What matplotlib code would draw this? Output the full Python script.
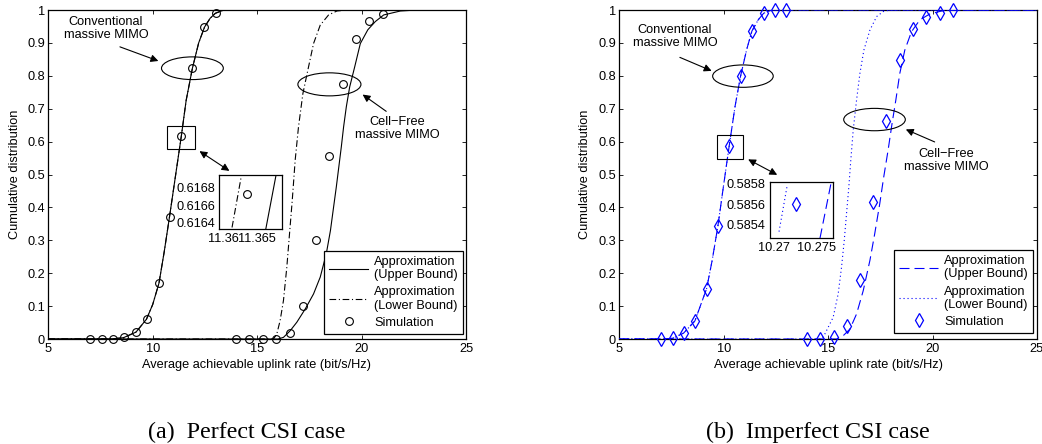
import matplotlib
matplotlib.use('Agg')
import matplotlib.pyplot as plt
from matplotlib.patches import Ellipse, Rectangle

plt.rcParams['font.family'] = ['Liberation Sans', 'DejaVu Sans']

# ---------------- data ----------------
x_ticks = [5, 10, 15, 20, 25]
x_tick_labels = ['5', '10', '15', '20', '25']
y_ticks = [0, 0.1, 0.2, 0.3, 0.4, 0.5, 0.6, 0.7, 0.8, 0.9, 1.0]
y_tick_labels = ['0', '0.1', '0.2', '0.3', '0.4', '0.5', '0.6', '0.7', '0.8', '0.9', '1']

legend_labels = ['Approximation\n(Upper Bound)', 'Approximation\n(Lower Bound)', 'Simulation']
xlabel_text = 'Average achievable uplink rate (bit/s/Hz)'
ylabel_text = 'Cumulative distribution'
captions = ['(a)  Perfect CSI case', '(b)  Imperfect CSI case']

# (a) perfect CSI
a_conv_up_x = [5.0, 7.0, 8.0, 8.6, 9.2, 9.7, 10.0, 10.3, 10.55, 10.8, 11.1, 11.37, 11.6, 11.9, 12.2, 12.48, 12.75, 13.0, 13.4, 25.0]
a_conv_up_y = [0.0, 0.0, 0.0, 0.004, 0.021, 0.06, 0.105, 0.17, 0.265, 0.37, 0.50, 0.617, 0.725, 0.823, 0.90, 0.948, 0.975, 0.99, 1.0, 1.0]
a_conv_lo_x = [5.0, 7.0, 8.0, 8.6, 9.2, 9.7, 10.0, 10.3, 10.55, 10.8, 11.1, 11.37, 11.6, 11.9, 12.2, 12.48, 12.75, 13.0, 13.4, 25.0]
a_conv_lo_y = [0.0, 0.0, 0.0, 0.004, 0.021, 0.06, 0.105, 0.17, 0.265, 0.37, 0.50, 0.617, 0.725, 0.823, 0.90, 0.948, 0.975, 0.99, 1.0, 1.0]
a_cf_up_x = [5.0, 16.0, 16.26, 16.58, 16.90, 17.30, 17.70, 18.02, 18.31, 18.51, 18.66, 18.79, 18.91, 19.03, 19.14, 19.27, 19.43, 19.67, 19.94, 20.3, 20.66, 21.06, 21.86, 22.65, 25.0]
a_cf_up_y = [0.0, 0.0, 0.005, 0.025, 0.051, 0.091, 0.137, 0.188, 0.259, 0.330, 0.401, 0.462, 0.523, 0.584, 0.645, 0.706, 0.766, 0.827, 0.898, 0.94, 0.965, 0.985, 0.997, 1.0, 1.0]
a_cf_lo_x = [5.0, 15.78, 15.94, 16.10, 16.26, 16.42, 16.55, 16.68, 16.82, 16.98, 17.19, 17.46, 17.70, 18.02, 18.42, 18.82, 19.30, 25.0]
a_cf_lo_y = [0.0, 0.0, 0.015, 0.056, 0.117, 0.218, 0.320, 0.421, 0.543, 0.645, 0.746, 0.827, 0.898, 0.954, 0.985, 0.997, 1.0, 1.0]
a_sim_conv_x = [7.0, 7.55, 8.1, 8.64, 9.19, 9.73, 10.29, 10.83, 11.37, 11.9, 12.47, 13.02]
a_sim_conv_y = [0.0, 0.0, 0.0, 0.005, 0.022, 0.062, 0.171, 0.372, 0.617, 0.823, 0.948, 0.992]
a_sim_cf_x = [13.99, 14.63, 15.27, 15.91, 16.55, 17.19, 17.83, 18.45, 19.09, 19.73, 20.35, 21.01]
a_sim_cf_y = [0.0, 0.0, 0.0, 0.0, 0.017, 0.100, 0.302, 0.556, 0.775, 0.911, 0.966, 0.987]
# (a) zoomed inset
a_ins_xlim = [11.35934, 11.36867]
a_ins_ylim = [0.616319, 0.616947]
a_ins_xticks = [11.36, 11.365]
a_ins_xlabels = ['11.36', '11.365']
a_ins_yticks = [0.6164, 0.6166, 0.6168]
a_ins_ylabels = ['0.6164', '0.6166', '0.6168']
a_ins_up_x = [11.36623, 11.36775]
a_ins_up_y = [0.616319, 0.616947]
a_ins_lo_x = [11.36126, 11.36262]
a_ins_lo_y = [0.616340, 0.616930]
a_ins_sim_x = [11.36351]
a_ins_sim_y = [0.616724]

# (b) imperfect CSI
b_conv_up_x = [5.0, 7.0, 7.55, 8.08, 8.62, 9.18, 9.45, 9.72, 10.0, 10.26, 10.55, 10.81, 11.1, 11.35, 11.65, 11.91, 12.3, 25.0]
b_conv_up_y = [0.0, 0.0, 0.002, 0.018, 0.055, 0.153, 0.24, 0.343, 0.47, 0.586, 0.71, 0.80, 0.88, 0.936, 0.97, 0.99, 1.0, 1.0]
b_conv_lo_x = [5.0, 7.0, 7.55, 8.08, 8.62, 9.18, 9.45, 9.72, 10.0, 10.26, 10.55, 10.81, 11.1, 11.35, 11.65, 11.91, 12.3, 25.0]
b_conv_lo_y = [0.0, 0.0, 0.002, 0.018, 0.055, 0.153, 0.24, 0.343, 0.47, 0.586, 0.71, 0.80, 0.88, 0.936, 0.97, 0.99, 1.0, 1.0]
b_cf_up_x = [5.0, 15.40, 15.72, 16.04, 16.36, 16.68, 17.0, 17.23, 17.47, 17.66, 17.87, 18.06, 18.24, 18.43, 18.67, 18.99, 19.39, 19.87, 20.50, 21.14, 25.0]
b_cf_up_y = [0.0, 0.0, 0.010, 0.030, 0.076, 0.147, 0.239, 0.320, 0.411, 0.492, 0.574, 0.655, 0.726, 0.807, 0.878, 0.934, 0.970, 0.988, 0.998, 1.0, 1.0]
b_cf_lo_x = [5.0, 14.68, 14.84, 15.24, 15.48, 15.64, 15.77, 15.88, 15.99, 16.08, 16.20, 16.36, 16.52, 16.71, 17.0, 17.32, 17.63, 17.95, 25.0]
b_cf_lo_y = [0.0, 0.0, 0.015, 0.066, 0.137, 0.218, 0.299, 0.381, 0.462, 0.540, 0.635, 0.726, 0.807, 0.878, 0.939, 0.980, 0.995, 1.0, 1.0]
b_sim_conv_x = [7.01, 7.55, 8.08, 8.62, 9.18, 9.72, 10.26, 10.81, 11.35, 11.91, 12.45, 12.97]
b_sim_conv_y = [0.0, 0.002, 0.018, 0.055, 0.153, 0.343, 0.586, 0.800, 0.936, 0.990, 1.0, 1.0]
b_sim_cf_x = [13.98, 14.62, 15.26, 15.89, 16.52, 17.15, 17.79, 18.43, 19.07, 19.69, 20.34, 20.96]
b_sim_cf_y = [0.0, 0.0, 0.005, 0.041, 0.179, 0.415, 0.664, 0.847, 0.941, 0.978, 0.992, 1.0]
# (b) zoomed inset
b_ins_xlim = [10.26957, 10.27693]
b_ins_ylim = [0.585272, 0.585815]
b_ins_xticks = [10.27, 10.275]
b_ins_xlabels = ['10.27', '10.275']
b_ins_yticks = [0.5854, 0.5856, 0.5858]
b_ins_ylabels = ['0.5854', '0.5856', '0.5858']
b_ins_up_x = [10.27538, 10.27670]
b_ins_up_y = [0.585272, 0.585815]
b_ins_lo_x = [10.27062, 10.27158]
b_ins_lo_y = [0.585336, 0.585784]
b_ins_sim_x = [10.27259]
b_ins_sim_y = [0.5856]

# ---------------- figure ----------------
W, H = 1042, 444
fig = plt.figure(figsize=(W / 100, H / 100), dpi=100)


def fax(l, t, r, b):
    return fig.add_axes([l / W, 1 - b / H, (r - l) / W, (b - t) / H])


FS = 9.2
BLUE = '#0000ff'
LW = 0.8
DASHDOT = (0, (6, 2.4, 1, 2.4))
DASHED = (0, (9, 4.5))
DOTTED = (0, (1, 2.6))
CIRC_MS = 5.6
DIAM_MS = 7.3


def style_main(ax):
    ax.set_xlim(5, 25)
    ax.set_ylim(0, 1)
    ax.set_xticks(x_ticks)
    ax.set_xticklabels(x_tick_labels)
    ax.set_yticks(y_ticks)
    ax.set_yticklabels(y_tick_labels)
    ax.tick_params(direction='in', top=True, right=True, length=3, width=0.6,
                   labelsize=FS, colors='k')
    ax.tick_params(axis='x', pad=3)
    ax.tick_params(axis='y', pad=2.5)
    for s in ax.spines.values():
        s.set_linewidth(0.9)


def style_inset(ax, xlim, ylim, xt, xl, yt, yl):
    ax.set_xlim(*xlim)
    ax.set_ylim(*ylim)
    ax.set_xticks(xt)
    ax.set_xticklabels(xl)
    ax.set_yticks(yt)
    ax.set_yticklabels(yl)
    ax.tick_params(length=0, labelsize=FS, pad=3)
    for s in ax.spines.values():
        s.set_linewidth(0.9)


def arrow(ax, tail, tip, style='-|>'):
    ax.annotate('', xy=tip, xytext=tail,
                arrowprops=dict(arrowstyle=style, color='k', lw=LW, mutation_scale=11,
                                shrinkA=0, shrinkB=0))


def make_legend(ax, handles, anchor):
    leg = ax.legend(handles, legend_labels, loc='lower right',
                    bbox_to_anchor=anchor, borderaxespad=0, fontsize=FS,
                    handlelength=3.0, handletextpad=0.5, borderpad=0.4, labelspacing=0.42,
                    fancybox=False, edgecolor='k', framealpha=1, numpoints=1)
    leg.get_frame().set_linewidth(0.9)
    for t in leg.get_texts():
        t.set_linespacing(1.12)
    return leg


# ---- (a) ----
axA = fax(48.3, 10, 466, 339)
la1, = axA.plot(a_conv_up_x, a_conv_up_y, color='k', lw=LW, zorder=3)
la2, = axA.plot(a_conv_lo_x, a_conv_lo_y, color='k', lw=LW, ls=DASHDOT, zorder=2)
axA.plot(a_cf_up_x, a_cf_up_y, color='k', lw=LW, zorder=3)
axA.plot(a_cf_lo_x, a_cf_lo_y, color='k', lw=LW, ls=DASHDOT, zorder=2)
la3, = axA.plot(a_sim_conv_x, a_sim_conv_y, ls='none', marker='o', ms=CIRC_MS, mfc='none',
                mec='k', mew=0.8, zorder=4, clip_on=False)
axA.plot(a_sim_cf_x, a_sim_cf_y, ls='none', marker='o', ms=CIRC_MS, mfc='none',
         mec='k', mew=0.8, zorder=4, clip_on=False)
style_main(axA)

axA.add_patch(Ellipse((11.90, 0.823), 2.96, 0.069, fill=False, lw=LW, ec='k', zorder=5))
arrow(axA, (8.43, 0.888), (10.27, 0.845))
axA.text(7.76, 0.944, 'Conventional\nmassive MIMO', ha='center', va='center', fontsize=FS, linespacing=1.1)
axA.add_patch(Ellipse((18.46, 0.774), 3.02, 0.070, fill=False, lw=LW, ec='k', zorder=5))
arrow(axA, (21.18, 0.692), (20.05, 0.743))
axA.text(21.69, 0.640, 'Cell\u2212Free\nmassive MIMO', ha='center', va='center', fontsize=FS, linespacing=1.1)
axA.add_patch(Rectangle((10.70, 0.576), 1.33, 0.072, fill=False, lw=LW, ec='k', zorder=5))
arrow(axA, (12.24, 0.571), (13.67, 0.511), '<|-|>')
make_legend(axA, [la1, la2, la3], (0.9928, 0.0152))

insA = fax(219, 175, 282.3, 229.3)
insA.plot(a_ins_up_x, a_ins_up_y, color='k', lw=LW)
insA.plot(a_ins_lo_x, a_ins_lo_y, color='k', lw=LW, ls=DASHDOT)
insA.plot(a_ins_sim_x, a_ins_sim_y, ls='none', marker='o', ms=CIRC_MS, mfc='none', mec='k', mew=0.8)
style_inset(insA, a_ins_xlim, a_ins_ylim, a_ins_xticks, a_ins_xlabels, a_ins_yticks, a_ins_ylabels)

# ---- (b) ----
axB = fax(619.3, 10, 1037, 339)
lb1, = axB.plot(b_conv_up_x, b_conv_up_y, color=BLUE, lw=LW, ls=DASHED, zorder=3)
lb2, = axB.plot(b_conv_lo_x, b_conv_lo_y, color=BLUE, lw=LW, ls=DOTTED, zorder=3)
axB.plot(b_cf_up_x, b_cf_up_y, color=BLUE, lw=LW, ls=DASHED, zorder=3)
axB.plot(b_cf_lo_x, b_cf_lo_y, color=BLUE, lw=LW, ls=DOTTED, zorder=3)
lb3, = axB.plot(b_sim_conv_x, b_sim_conv_y, ls='none', marker='d', ms=DIAM_MS, mfc='none',
                mec=BLUE, mew=0.9, zorder=4, clip_on=False)
axB.plot(b_sim_cf_x, b_sim_cf_y, ls='none', marker='d', ms=DIAM_MS, mfc='none',
         mec=BLUE, mew=0.9, zorder=4, clip_on=False)
style_main(axB)

axB.add_patch(Ellipse((10.92, 0.799), 2.90, 0.068, fill=False, lw=LW, ec='k', zorder=5))
arrow(axB, (7.90, 0.856), (9.42, 0.815))
axB.text(7.66, 0.919, 'Conventional\nmassive MIMO', ha='center', va='center', fontsize=FS, linespacing=1.1)
axB.add_patch(Ellipse((17.22, 0.667), 2.95, 0.068, fill=False, lw=LW, ec='k', zorder=5))
arrow(axB, (20.10, 0.599), (18.72, 0.637))
axB.text(20.66, 0.543, 'Cell\u2212Free\nmassive MIMO', ha='center', va='center', fontsize=FS, linespacing=1.1)
axB.add_patch(Rectangle((9.66, 0.548), 1.24, 0.071, fill=False, lw=LW, ec='k', zorder=5))
arrow(axB, (11.17, 0.546), (12.56, 0.499), '<|-|>')
make_legend(axB, [lb1, lb2, lb3], (0.9904, 0.018))

insB = fax(770, 181.7, 833.3, 238.3)
insB.plot(b_ins_up_x, b_ins_up_y, color=BLUE, lw=LW, ls=DASHED)
insB.plot(b_ins_lo_x, b_ins_lo_y, color=BLUE, lw=LW, ls=DOTTED)
insB.plot(b_ins_sim_x, b_ins_sim_y, ls='none', marker='d', ms=DIAM_MS, mfc='none', mec=BLUE, mew=0.9)
style_inset(insB, b_ins_xlim, b_ins_ylim, b_ins_xticks, b_ins_xlabels, b_ins_yticks, b_ins_ylabels)

# ---- labels and captions ----
for cx, ylx in [(257, 15), (828, 585)]:
    fig.text(cx / W, 1 - 365 / H, xlabel_text, ha='center', va='center', fontsize=FS)
    fig.text(ylx / W, 1 - 174.5 / H, ylabel_text, ha='center', va='center', fontsize=FS, rotation=90)

fig.text(247 / W, 1 - 432 / H, captions[0], ha='center', va='center', fontsize=17.3,
         family=['Liberation Serif', 'DejaVu Serif'])
fig.text(818 / W, 1 - 432 / H, captions[1], ha='center', va='center', fontsize=17.3,
         family=['Liberation Serif', 'DejaVu Serif'])

fig.savefig('out.png', dpi=100)
